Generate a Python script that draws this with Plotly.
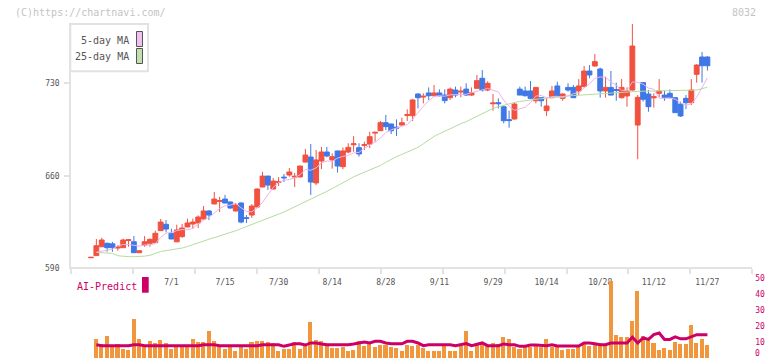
import plotly.graph_objects as go

W, H = 772, 361

# ---------------- data ----------------
label_idx = [15, 25, 35, 45, 55, 65, 75, 85, 95, 105, 115]
label_txt = ['7/1', '7/15', '7/30', '8/14', '8/28', '9/11', '9/29', '10/14', '10/28', '11/12', '11/27']

opens = [598.0, 599.6, 606.3, 608.9, 608.5, 605.3, 605.6, 611.0, 610.1, 601.8,
         607.6, 608.9, 609.4, 618.5, 623.3, 616.5, 610.0, 614.0, 621.3, 623.5,
         624.3, 627.3, 633.4, 638.7, 640.5, 642.4, 640.2, 633.4, 639.4, 628.3,
         630.3, 636.4, 651.5, 659.8, 650.0, 655.0, 659.0, 660.6, 659.0, 659.1,
         670.4, 674.2, 654.6, 671.2, 678.0, 672.0, 678.8, 666.9, 678.0, 683.5,
         681.3, 683.0, 684.0, 692.3, 694.1, 700.2, 699.2, 696.8, 698.4, 705.6,
         705.5, 721.9, 719.6, 722.7, 720.6, 722.7, 721.1, 719.1, 724.9, 723.4,
         725.6, 721.1, 726.2, 733.8, 724.9, 714.5, 715.3, 712.3, 702.5, 703.0,
         725.6, 724.2, 724.2, 716.8, 719.1, 709.3, 719.1, 728.0, 718.6, 726.9,
         726.9, 724.2, 727.5, 739.3, 743.1, 740.8, 724.2, 726.9, 725.3, 719.1,
         720.4, 724.9, 698.4, 730.5, 721.9, 719.0, 722.4, 721.1, 722.4, 719.1,
         714.3, 718.6, 715.3, 736.8, 749.9, 749.9]
highs = [598.4, 612.2, 613.1, 609.5, 610.0, 607.6, 612.5, 612.2, 614.4, 603.5,
         614.4, 612.6, 618.5, 627.3, 626.5, 620.0, 623.0, 623.5, 627.6, 627.6,
         630.0, 637.1, 634.0, 647.7, 644.0, 645.5, 640.5, 639.4, 640.0, 630.3,
         638.6, 650.5, 662.9, 660.0, 658.3, 659.0, 661.4, 665.9, 662.1, 667.6,
         680.3, 684.1, 679.5, 681.8, 681.8, 677.0, 679.0, 681.5, 684.6, 690.1,
         684.6, 685.8, 693.4, 693.4, 701.5, 706.0, 699.5, 702.7, 704.0, 710.3,
         718.0, 722.5, 722.4, 726.9, 728.7, 725.4, 725.4, 726.9, 727.5, 727.5,
         730.0, 726.9, 736.3, 740.0, 731.5, 721.9, 718.6, 712.5, 709.3, 715.3,
         727.5, 727.5, 731.7, 727.0, 719.5, 719.1, 728.0, 731.2, 722.5, 730.0,
         728.7, 733.2, 743.1, 743.8, 752.2, 741.8, 735.0, 739.3, 730.5, 733.2,
         726.9, 774.9, 721.1, 731.0, 725.0, 722.4, 733.2, 724.2, 725.4, 719.5,
         716.1, 721.1, 733.2, 744.5, 753.7, 750.5]
lows = [598.0, 599.6, 606.0, 602.5, 602.5, 603.3, 605.6, 606.3, 601.8, 601.8,
        606.3, 606.3, 609.4, 618.5, 617.2, 612.0, 610.0, 613.0, 621.0, 620.0,
        620.5, 627.0, 626.5, 638.5, 632.6, 639.0, 635.0, 633.0, 624.0, 624.3,
        628.0, 636.0, 651.5, 649.3, 649.5, 652.3, 655.3, 659.3, 651.5, 659.0,
        670.0, 645.5, 653.0, 665.1, 674.0, 665.4, 662.4, 665.0, 677.0, 678.2,
        674.5, 679.5, 681.0, 685.8, 694.0, 694.6, 691.6, 690.1, 698.0, 701.5,
        701.5, 711.0, 714.8, 717.4, 720.0, 720.0, 714.8, 717.4, 719.4, 719.4,
        720.5, 720.5, 726.0, 723.7, 724.0, 709.3, 711.0, 699.7, 696.4, 702.5,
        721.0, 720.0, 718.0, 714.8, 712.3, 705.3, 719.0, 719.5, 716.8, 723.7,
        719.0, 721.1, 727.0, 733.8, 742.5, 719.1, 719.1, 721.0, 716.8, 718.5,
        712.3, 724.5, 672.5, 716.1, 708.5, 711.6, 719.4, 716.8, 718.5, 707.5,
        704.5, 710.5, 713.6, 730.5, 730.5, 739.6]
closes = [598.3, 607.1, 611.4, 605.6, 605.6, 606.0, 611.4, 611.6, 601.8, 603.3,
          610.1, 611.9, 616.5, 625.0, 619.7, 612.2, 619.0, 620.5, 624.3, 625.0,
          628.8, 633.4, 630.3, 642.4, 641.2, 639.4, 635.6, 637.9, 625.0, 627.8,
          637.1, 650.0, 659.8, 653.0, 656.0, 655.6, 658.5, 662.9, 659.6, 667.4,
          675.7, 655.3, 672.0, 678.0, 675.0, 674.5, 667.4, 678.8, 681.5, 684.2,
          676.5, 683.6, 689.6, 692.9, 700.2, 697.2, 694.1, 696.1, 700.2, 706.3,
          717.4, 719.1, 720.2, 720.6, 722.7, 720.6, 716.9, 725.6, 721.1, 724.0,
          721.1, 722.9, 732.0, 724.9, 730.0, 715.1, 714.6, 701.7, 701.8, 714.3,
          721.1, 720.6, 718.6, 726.9, 716.8, 712.8, 724.2, 720.4, 721.9, 724.9,
          719.1, 728.0, 739.3, 736.3, 746.4, 724.2, 726.9, 721.1, 724.6, 726.9,
          724.2, 758.2, 719.4, 717.9, 712.3, 719.8, 724.2, 719.1, 719.1, 707.8,
          705.3, 715.3, 724.9, 743.8, 743.3, 743.3]

ma5 = [None, 602.1, 602.8, 603.3, 604.5, 607.1, 608.0, 608.0, 607.3, 606.8,
       607.6, 607.7, 608.7, 613.4, 616.6, 617.1, 618.5, 619.3, 619.1, 620.2,
       623.5, 626.4, 628.4, 632.0, 635.2, 637.3, 637.8, 639.3, 635.8, 633.1,
       632.7, 635.6, 639.9, 645.5, 651.2, 654.9, 656.6, 657.2, 658.5, 660.8,
       664.8, 664.2, 666.0, 669.7, 671.2, 671.0, 673.4, 674.7, 675.4, 677.3,
       677.7, 680.9, 683.1, 685.4, 688.6, 692.7, 694.8, 696.1, 697.6, 698.8,
       702.8, 707.8, 712.6, 716.7, 720.0, 720.6, 720.2, 721.3, 721.4, 721.6,
       721.7, 722.9, 724.2, 725.0, 726.2, 725.0, 723.3, 717.3, 712.6, 709.5,
       710.7, 711.9, 715.3, 720.3, 720.8, 719.1, 719.9, 720.2, 719.2, 720.8,
       722.1, 722.9, 726.6, 729.5, 733.8, 734.8, 734.6, 731.0, 728.6, 724.7,
       724.7, 731.0, 730.7, 729.3, 726.4, 725.5, 718.7, 718.7, 718.9, 718.0,
       715.1, 713.3, 714.5, 719.4, 726.5, 734.1]
ma25 = [None, 602.0, 601.8, 601.6, 601.3, 599.5, 599.0, 598.8, 598.8, 598.8,
        599.2, 599.8, 601.5, 602.7, 603.4, 603.9, 604.6, 605.3, 606.5, 608.0,
        609.3, 610.7, 612.0, 613.2, 614.4, 615.7, 617.0, 618.4, 620.0, 621.5,
        623.0, 624.7, 626.1, 627.7, 629.4, 631.0, 632.6, 634.5, 636.3, 638.2,
        640.0, 642.0, 643.8, 646.0, 648.2, 650.3, 652.5, 655.0, 657.5, 659.2,
        661.0, 662.6, 664.2, 666.0, 667.8, 670.2, 672.5, 674.5, 676.2, 678.0,
        679.8, 681.5, 684.2, 687.0, 689.8, 691.8, 693.8, 695.8, 697.9, 699.4,
        701.0, 703.0, 705.2, 707.3, 709.4, 711.0, 712.2, 713.4, 714.7, 715.5,
        716.2, 716.9, 717.5, 717.9, 718.3, 718.8, 719.3, 719.7, 720.1, 720.4,
        720.7, 721.0, 721.2, 721.4, 721.6, 721.8, 722.1, 722.5, 722.9, 723.3,
        723.6, 723.8, 723.9, 724.0, 724.1, 724.2, 724.2, 724.2, 724.2, 724.2,
        724.2, 724.4, 724.6, 724.9, 726.0, 727.0]

volume = [None, 12.1, 8.9, 13.9, 7.7, 8.9, 5.8, 5.2, 24.6, 12.1,
          7.7, 10.8, 9.6, 11.4, 9.6, 5.8, 7.7, 7.7, 7.7, 12.1,
          10.2, 10.2, 17.1, 10.8, 7.7, 5.8, 7.1, 4.6, 7.1, 5.8,
          10.2, 10.8, 10.8, 10.2, 9.6, 4.6, 5.8, 5.8, 10.2, 5.8,
          8.3, 22.7, 11.4, 10.8, 7.7, 6.5, 6.5, 7.1, 4.6, 5.2,
          10.8, 7.7, 8.9, 7.1, 8.3, 8.3, 7.1, 6.5, 4.6, 8.3,
          7.7, 8.0, 6.1, 4.6, 4.6, 4.6, 8.3, 4.6, 4.6, 7.2,
          17.1, 4.6, 9.6, 9.6, 7.7, 9.6, 8.9, 13.3, 12.1, 7.1,
          5.8, 7.1, 7.1, 8.9, 7.1, 12.1, 7.1, 7.1, 5.2, 5.8,
          5.8, 7.7, 10.2, 7.7, 8.9, 9.6, 8.9, 48.1, 14.6, 13.3,
          13.3, 23.3, 42.1, 13.9, 12.7, 9.6, 5.2, 6.5, 5.2, 10.2,
          8.9, 8.9, 20.8, 9.6, 12.1, 8.3]
ai_pred = [None, 8.3, 7.7, 7.7, 7.7, 7.7, 7.7, 7.7, 8.3, 8.3,
           7.7, 7.7, 7.7, 7.7, 7.7, 7.7, 7.7, 7.7, 7.7, 7.7,
           7.7, 8.3, 8.3, 8.3, 7.7, 7.7, 7.7, 7.7, 7.7, 7.7,
           7.7, 7.7, 8.3, 8.3, 8.3, 8.3, 7.3, 8.3, 8.9, 8.9,
           8.1, 9.4, 9.4, 8.8, 8.3, 8.3, 8.3, 8.3, 8.3, 8.8,
           9.4, 10.0, 9.4, 10.4, 10.4, 9.4, 8.9, 8.9, 8.9, 10.4,
           10.4, 9.4, 7.7, 8.3, 8.3, 8.3, 8.3, 8.3, 7.7, 8.3,
           9.0, 7.7, 8.5, 9.4, 7.7, 7.7, 7.7, 8.8, 8.3, 8.3,
           7.3, 7.3, 8.1, 8.1, 8.1, 7.7, 8.3, 7.5, 7.5, 7.5,
           7.5, 7.5, 9.4, 9.4, 8.9, 8.3, 8.3, 9.4, 9.4, 9.4,
           9.4, 13.0, 9.4, 12.6, 11.6, 14.6, 15.6, 11.6, 11.6, 13.2,
           12.0, 12.0, 13.5, 14.6, 14.6, 14.6]

price_ticks = [590, 660, 730]
vol_ticks = [0, 10, 20, 30, 40, 50]

# ---------------- layout geometry (pixels) ----------------
X0PX, DXPX = 91.0, 5.36          # pixel of first session, pixels per session
PX_PER_YEN = 1 / 0.7568          # vertical scale of price panel
Y730PX = 83.3                    # pixel row of the 730 tick
VOL0PX, PX_PER_VOL = 358.0, 1.6  # bottom panel scale

L_PX, R_PX = 71.3, 752.3
TOP_PX, BOT_PX = 23.0, 267.3
VTOP_PX, VBOT_PX = 270.0, 361.0


def fx(px):
    return px / W


def fy(py):
    return 1 - py / H


def idx_at(px):
    return (px - X0PX) / DXPX


def price_at(py):
    return 730 - (py - Y730PX) / PX_PER_YEN


def price_px(p):
    return Y730PX + (730 - p) * PX_PER_YEN


def vol_at(py):
    return (VOL0PX - py) / PX_PER_VOL


idx = list(range(len(closes)))
x_range = [idx_at(L_PX), idx_at(R_PX)]
x_dom = [fx(L_PX), fx(R_PX)]

UP, DOWN = '#f2513f', '#3f78e6'
PINK, GREEN = '#ebb4eb', '#b4dca0'
MAG, ORANGE = '#cc0066', '#f0963c'
AXC = '#e2e2e2'
FONT = 'DejaVu Sans Mono'

fig = go.Figure()

fig.add_trace(go.Scatter(x=idx, y=ma25, mode='lines', line=dict(color=GREEN, width=1),
                         xaxis='x', yaxis='y', hoverinfo='skip'))
fig.add_trace(go.Scatter(x=idx, y=ma5, mode='lines', line=dict(color=PINK, width=1),
                         xaxis='x', yaxis='y', hoverinfo='skip'))
fig.add_trace(go.Candlestick(
    x=idx, open=opens, high=highs, low=lows, close=closes,
    increasing=dict(line=dict(color=UP, width=1), fillcolor=UP),
    decreasing=dict(line=dict(color=DOWN, width=1), fillcolor=DOWN),
    whiskerwidth=0, xaxis='x', yaxis='y'))

fig.add_trace(go.Bar(x=idx, y=volume, marker=dict(color=ORANGE, line=dict(width=0)),
                     width=0.75, xaxis='x2', yaxis='y2'))
fig.add_trace(go.Scatter(x=idx, y=ai_pred, mode='lines', line=dict(color=MAG, width=3),
                         xaxis='x2', yaxis='y2'))

nint = 11
fig.update_layout(
    width=W, height=H, margin=dict(l=0, r=0, t=0, b=0),
    paper_bgcolor='white', plot_bgcolor='white', showlegend=False,
    boxgap=0.05, boxgroupgap=0.05, bargap=0,
    xaxis=dict(domain=x_dom, range=x_range, anchor='y',
               tickmode='array', tickvals=label_idx, ticktext=label_txt,
               ticks='', showline=True, linecolor=AXC, linewidth=2,
               showgrid=False, zeroline=False, rangeslider=dict(visible=False),
               tickfont=dict(family=FONT, size=8, color='#555'),
               ticklabelstandoff=6,
               minor=dict(tickmode='linear', tick0=x_range[0],
                          dtick=(x_range[1] - x_range[0]) / nint,
                          ticks='outside', ticklen=5, tickwidth=2, tickcolor=AXC,
                          showgrid=False)),
    yaxis=dict(domain=[fy(BOT_PX), fy(TOP_PX)], range=[price_at(BOT_PX), price_at(TOP_PX)],
               anchor='x', tickmode='array', tickvals=price_ticks,
               ticks='outside', ticklen=5, tickwidth=2, tickcolor=AXC,
               showline=True, linecolor=AXC, linewidth=2, showgrid=False, zeroline=False,
               ticklabelstandoff=3,
               tickfont=dict(family=FONT, size=8, color='#555')),
    xaxis2=dict(domain=x_dom, range=x_range, anchor='y2', visible=False),
    yaxis2=dict(domain=[fy(VBOT_PX), fy(VTOP_PX)], range=[vol_at(VBOT_PX), vol_at(VTOP_PX)],
                anchor='x2', side='right', tickmode='array', tickvals=vol_ticks[1:],
                ticks='', showline=False, showgrid=False, zeroline=False,
                ticklabelstandoff=2,
                tickfont=dict(family=FONT, size=8, color=MAG)),
)

shapes = [
    dict(type='rect', xref='paper', yref='paper', x0=fx(70.3), x1=fx(148), y0=fy(71.3), y1=fy(24),
         line=dict(color=AXC, width=2), fillcolor='white', layer='above'),
    dict(type='rect', xref='paper', yref='paper', x0=fx(136.5), x1=fx(142.5), y0=fy(46.5), y1=fy(31.5),
         line=dict(color='#555', width=1), fillcolor='#f0c0f0', layer='above'),
    dict(type='rect', xref='paper', yref='paper', x0=fx(136.5), x1=fx(142.5), y0=fy(63.5), y1=fy(48.5),
         line=dict(color='#555', width=1), fillcolor='#c0e0b0', layer='above'),
    dict(type='rect', xref='paper', yref='paper', x0=fx(142), x1=fx(148.7), y0=fy(292.7), y1=fy(277),
         line=dict(width=0), fillcolor=MAG, layer='above'),
]
fig.update_layout(shapes=shapes)


def ann(text, px, py, anchor, size, color):
    return dict(text=text, xref='paper', yref='paper', x=fx(px), y=fy(py),
                xanchor=anchor, yanchor='middle', showarrow=False, borderpad=0,
                font=dict(family=FONT, size=size, color=color))


annotations = [
    ann('(C)https://chartnavi.com/', 14, 12.7, 'left', 10, '#c4c4c4'),
    ann('8032', 757.3, 12.3, 'right', 10, '#c4c4c4'),
    ann('5-day MA', 129.5, 40.7, 'right', 10, '#555'),
    ann('25-day MA', 129.5, 56.7, 'right', 10, '#555'),
    ann('AI-Predict', 75.7, 286, 'left', 10, MAG),
    # lowest price label sits on the bottom axis line
    dict(text=str(price_ticks[0]), xref='paper', yref='paper', x=fx(59.5),
         y=fy(price_px(price_ticks[0])), xanchor='right', yanchor='middle',
         showarrow=False, borderpad=0, borderwidth=0,
         font=dict(family=FONT, size=8, color='#555')),
    # lowest label of the right-hand scale, kept inside the page
    dict(text=str(vol_ticks[0]), xref='paper', yref='y2', x=fx(754.5), y=vol_ticks[0],
         xanchor='left', yanchor='bottom', showarrow=False, borderpad=0, borderwidth=0,
         font=dict(family=FONT, size=8, color=MAG)),
]
fig.update_layout(annotations=annotations)

post = "document.body.style.margin='0';document.body.style.overflow='hidden';"
fig.write_html('out.html', config={'displayModeBar': False}, post_script=post)
